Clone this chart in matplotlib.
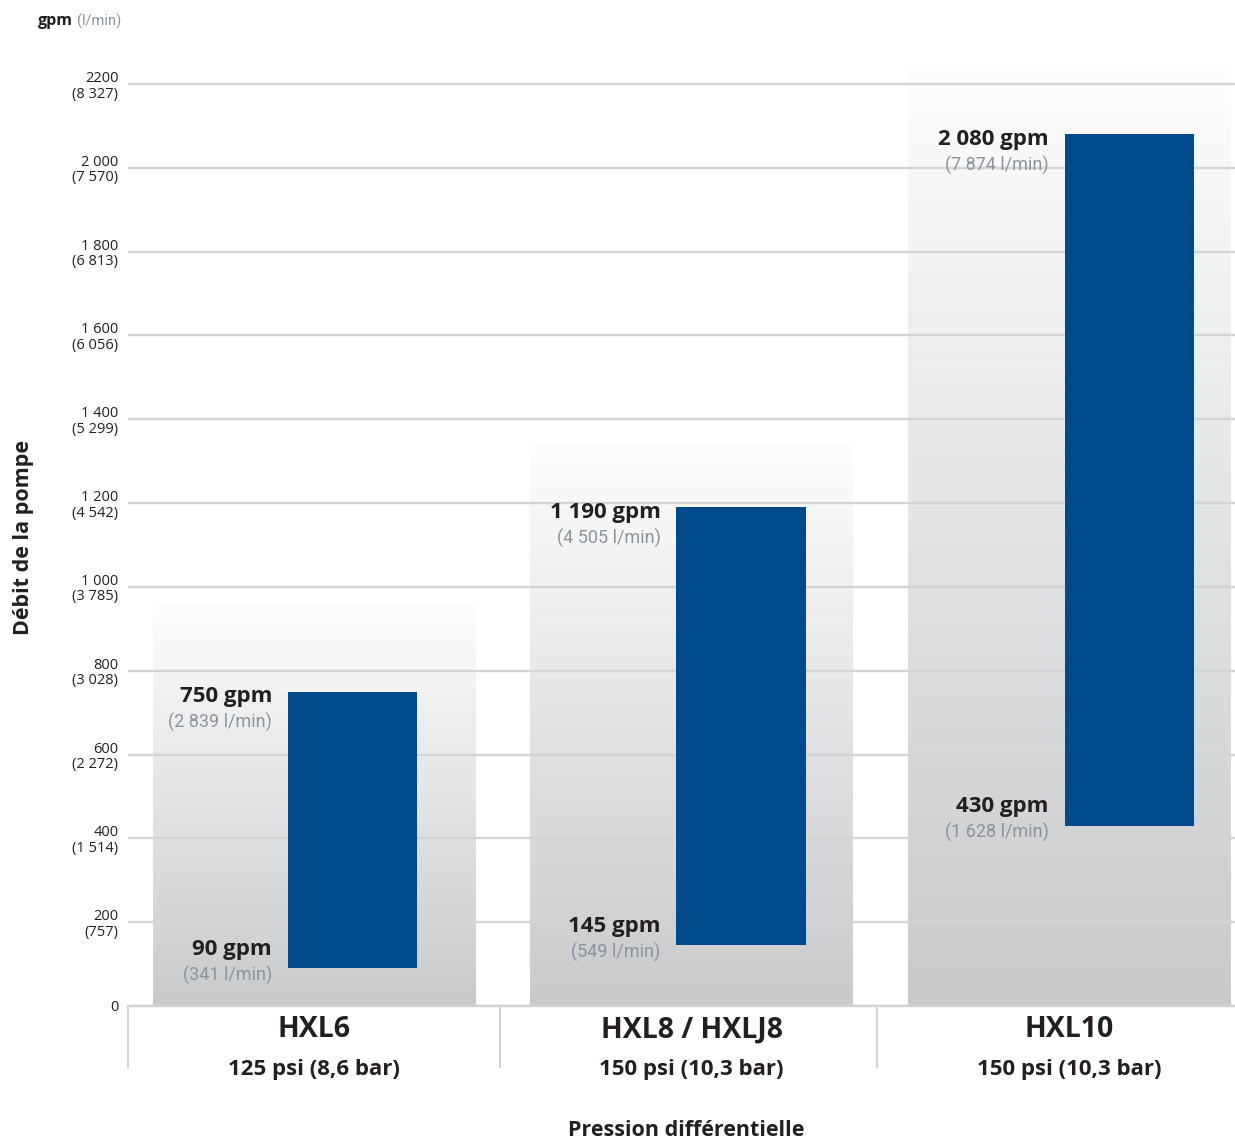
import numpy as np
import matplotlib
matplotlib.use("Agg")
import matplotlib.pyplot as plt
from matplotlib.colors import LinearSegmentedColormap

# data
models = ["HXL6", "HXL8 / HXLJ8", "HXL10"]
pressures = ["125 psi (8,6 bar)", "150 psi (10,3 bar)", "150 psi (10,3 bar)"]
flow_min_gpm = [90, 145, 430]
flow_max_gpm = [750, 1190, 2080]
flow_min_lpm = ["341", "549", "1 628"]
flow_max_lpm = ["2 839", "4 505", "7 874"]
yticks = [0, 200, 400, 600, 800, 1000, 1200, 1400, 1600, 1800, 2000, 2200]
ytick_gpm = ["0", "200", "400", "600", "800", "1 000", "1 200", "1 400",
             "1 600", "1 800", "2 000", "2200"]
ytick_lpm = ["", "757", "1 514", "2 272", "3 028", "3 785", "4 542", "5 299",
             "6 056", "6 813", "7 570", "8 327"]

# layout / style
BLUE = "#004a8c"
GRID = "#d4d4d4"
DARK = "#231f20"
GREYTXT = "#8b939c"
panel_top = [955, 1340, 2240]
panel_w = 0.853
bar_w = 0.342
NARROW = ["Roboto", "DejaVu Sans"]
MAIN = ["Open Sans", "DejaVu Sans"]

plt.rcParams["font.family"] = MAIN

fig = plt.figure(figsize=(12.35, 11.44), dpi=100)
ax = fig.add_axes([128 / 1235, 0.12063, 1 - 128 / 1235, 0.8279])

x = np.arange(len(models))

# gradient panels behind each bar
cmap = LinearSegmentedColormap.from_list("panel", ["#c9cacc", "#fdfdfd"])
grad = np.linspace(0, 1, 256).reshape(-1, 1)
for i, top in zip(x, panel_top):
    ax.imshow(grad, cmap=cmap, origin="lower", aspect="auto",
              extent=(i - panel_w / 2, i + panel_w / 2, 0, top),
              zorder=0.2, interpolation="bicubic")
ax.set_xlim(-0.4927, 2.4397)
ax.set_ylim(0, 2260)

# floating bars
bar_x = x + 0.102 + 0.029 * x
heights = [hi - lo for lo, hi in zip(flow_min_gpm, flow_max_gpm)]
ax.bar(bar_x, heights, bottom=flow_min_gpm, width=bar_w, color=BLUE, zorder=2)

px = 0.72  # points per pixel at 100 dpi
for bx, lo, hi, llo, lhi in zip(bar_x, flow_min_gpm, flow_max_gpm,
                                flow_min_lpm, flow_max_lpm):
    left = bx - bar_w / 2
    ax.annotate(f"{hi:,} gpm".replace(",", " "), (left, hi),
                xytext=(-16 * px, -5 * px), textcoords="offset points",
                ha="right", va="center", fontsize=16, fontweight="bold",
                color=DARK)
    ax.annotate(f"({lhi} l/min)", (left, hi),
                xytext=(-16 * px, -31 * px), textcoords="offset points",
                ha="right", va="center", fontsize=13, color=GREYTXT,
                family=NARROW)
    ax.annotate(f"{lo} gpm", (left, lo),
                xytext=(-16 * px, 19 * px), textcoords="offset points",
                ha="right", va="center", fontsize=16, fontweight="bold",
                color=DARK)
    ax.annotate(f"({llo} l/min)", (left, lo),
                xytext=(-16 * px, -7 * px), textcoords="offset points",
                ha="right", va="center", fontsize=13, color=GREYTXT,
                family=NARROW)

# y axis
labels = [g if not l else f"{g}\n({l})" for g, l in zip(ytick_gpm, ytick_lpm)]
ax.set_yticks(yticks)
ax.set_yticklabels(labels, fontsize=10.5, color=DARK, linespacing=1.05,
                   multialignment="right")
for t in ax.get_yticklabels()[1:]:
    t.set_y(0)
ax.tick_params(axis="y", length=0, pad=7)
ax.set_xticks([])
ax.yaxis.grid(True, color=GRID, linewidth=1.7)
ax.set_axisbelow(True)
for s in ["top", "right", "left"]:
    ax.spines[s].set_visible(False)
ax.spines["bottom"].set_color(GRID)
ax.spines["bottom"].set_linewidth(1.7)

# category labels and separators
for i, m, p in zip(x, models, pressures):
    ax.annotate(m, (i, 0), xycoords=("data", "axes fraction"),
                xytext=(0, -24 * px), textcoords="offset points",
                ha="center", va="center", fontsize=20.5, fontweight="bold",
                color=DARK)
    ax.annotate(p, (i, 0), xycoords=("data", "axes fraction"),
                xytext=(0, -64 * px), textcoords="offset points",
                ha="center", va="center", fontsize=16, fontweight="bold",
                color=DARK)
for sx in [-0.4927, 0.4927, 1.4914]:
    ax.plot([sx, sx], [0, -0.0644], transform=ax.get_xaxis_transform(),
            color=GRID, linewidth=1.5, clip_on=False)

# axis titles
fig.text(686 / 1235, 1 - 1131 / 1144, "Pression différentielle",
         ha="center", va="center", fontsize=15.5, fontweight="bold", color=DARK)
fig.text(23 / 1235, 1 - 538 / 1144, "Débit de la pompe", rotation=90,
         ha="center", va="center", fontsize=15.5, fontweight="bold", color=DARK)
fig.text(73 / 1235, 1 - 21 / 1144, "gpm", ha="right", va="center",
         fontsize=11.5, fontweight="bold", color=DARK)
fig.text(77 / 1235, 1 - 21 / 1144, "(l/min)", ha="left", va="center",
         fontsize=10.5, color=GREYTXT, family=NARROW)

fig.savefig("out.png", dpi=100)
